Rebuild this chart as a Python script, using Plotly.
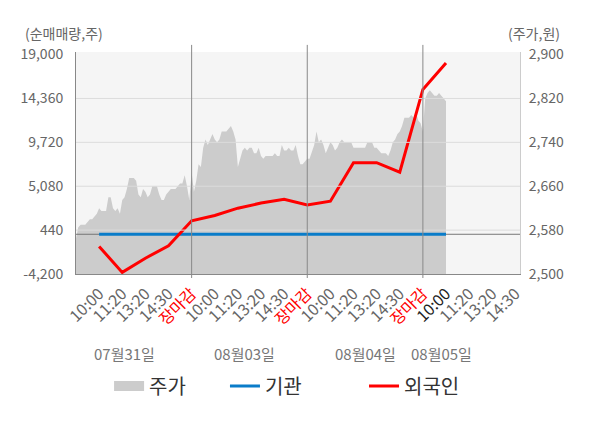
import numpy as np
import plotly.graph_objects as go

# 주가 (분봉, 시간 눈금 한 칸을 10등분한 간격으로 읽음)
price = [
    # 07월31일
    2565, 2585, 2590, 2590, 2590, 2595, 2600, 2600, 2605, 2610,
    2620, 2615, 2615, 2615, 2640, 2640, 2620, 2615, 2620, 2610,
    2635, 2640, 2655, 2675, 2675, 2675, 2670, 2645, 2640, 2655,
    2650, 2640, 2645, 2660, 2660, 2660, 2645, 2635, 2635, 2645,
    2650, 2655, 2655, 2655, 2660, 2665, 2665, 2680, 2660, 2635,
    # 08월03일
    2685, 2650, 2670, 2700, 2695, 2730, 2745, 2735, 2745, 2755,
    2745, 2740, 2745, 2760, 2760, 2760, 2765, 2770, 2760, 2745,
    2695, 2710, 2725, 2730, 2725, 2730, 2730, 2720, 2720, 2730,
    2715, 2710, 2715, 2715, 2715, 2715, 2720, 2715, 2715, 2735,
    2725, 2725, 2730, 2725, 2725, 2735, 2715, 2700, 2700, 2705,
    # 08월04일
    2710, 2710, 2725, 2735, 2760, 2740, 2745, 2735, 2720, 2730,
    2740, 2735, 2725, 2730, 2740, 2745, 2740, 2740, 2740, 2740,
    2730, 2730, 2730, 2730, 2730, 2730, 2740, 2740, 2740, 2730,
    2730, 2725, 2720, 2720, 2720, 2715, 2725, 2740, 2745, 2755,
    2760, 2770, 2785, 2785, 2785, 2790, 2785, 2795, 2780, 2775,
    # 08월05일
    2760, 2820, 2830, 2835, 2830, 2825, 2825, 2830, 2825, 2820, 2815,
]

# 외국인 / 기관 순매매량 (시간 눈금마다)
flow_slot = list(range(1, 17))
foreign = [-1290, -4030, -2530, -1220, 1420, 1990, 2760, 3300,
           3700, 3110, 3500, 7570, 7570, 6560, 15310, 18110]
institution = [0] * 16

# x축 눈금
tick_slot = list(range(1, 20))
tick_label = ['10:00', '11:20', '13:20', '14:30', '장마감'] * 3 + ['10:00', '11:20', '13:20', '14:30']
date_label = ['07월31일', '08월03일', '08월04일', '08월05일']

# 좌(순매매량) / 우(주가) 눈금
vol_ticks = [-4200, 440, 5080, 9720, 14360, 19000]
price_ticks = [2500, 2580, 2660, 2740, 2820, 2900]

price_x = np.arange(len(price)) / 10
x_range = [0, 19.2]
font = 'Noto Sans CJK KR'

# 장마감은 빨간색, 마지막 날 10:00은 진하게
tick_text = []
for i, t in enumerate(tick_label):
    if t == '장마감':
        tick_text.append('<span style="color:#ff0000">장마감</span>')
    elif i == 15:
        tick_text.append('<span style="color:#222222">' + t + '</span>')
    else:
        tick_text.append(t)

fig = go.Figure()

# 주가 영역
fig.add_trace(go.Scatter(
    x=price_x, y=price, name='주가', mode='lines',
    fill='tozeroy', fillcolor='#cccccc', line=dict(width=0, color='#cccccc'),
    hoverinfo='skip', showlegend=False
))
# 범례용 (회색 상자)
fig.add_trace(go.Scatter(
    x=[None], y=[None], name='주가', mode='lines',
    line=dict(color='#cccccc', width=14), legend='legend'
))

# 0 기준선
fig.add_trace(go.Scatter(
    x=x_range, y=[0, 0], yaxis='y2', mode='lines',
    line=dict(color='#777777', width=1), hoverinfo='skip', showlegend=False
))

fig.add_trace(go.Scatter(
    x=flow_slot, y=institution, name='기관', yaxis='y2', mode='lines',
    line=dict(color='#0a7cc9', width=3), legend='legend2'
))

fig.add_trace(go.Scatter(
    x=flow_slot, y=foreign, name='외국인', yaxis='y2', mode='lines',
    line=dict(color='#ff0000', width=3), legend='legend3'
))

# 가로 격자선 (영역 위에 그려짐)
for v in price_ticks[1:-1]:
    fig.add_shape(type='line', xref='paper', yref='y', x0=0, x1=1, y0=v, y1=v,
                  line=dict(color='#dcdcdc', width=1), layer='above')

# 날짜 구분선
for s, t in zip(tick_slot, tick_label):
    if t == '장마감':
        fig.add_shape(type='line', xref='x', yref='paper', x0=s, x1=s, y0=-0.018, y1=1.032,
                      line=dict(color='#888888', width=1), layer='above')

# 날짜 라벨
date_pos = [2.1, 7.3, 12.5, 15.8]
for d, p in zip(date_label, date_pos):
    fig.add_annotation(x=p, y=-0.36, xref='x', yref='paper', text=d, showarrow=False,
                       yanchor='middle', font=dict(size=15, color='#777777'))

fig.add_annotation(x=-0.12, y=1.086, xref='paper', yref='paper', text='(순매매량,주)',
                   showarrow=False, xanchor='left', yanchor='middle',
                   font=dict(size=14, color='#666666'))
fig.add_annotation(x=1.095, y=1.086, xref='paper', yref='paper', text='(주가,원)',
                   showarrow=False, xanchor='right', yanchor='middle',
                   font=dict(size=14, color='#666666'))

legend_style = dict(orientation='h', yanchor='middle', y=-0.505, xanchor='left',
                    font=dict(size=20, color='#333333'), bgcolor='rgba(0,0,0,0)')

# 페이지 기본 여백(8px)만큼 당겨서 배치
fig.update_layout(
    width=600, height=428,
    margin=dict(l=68, r=88, t=44, b=162, autoexpand=False),
    paper_bgcolor='white', plot_bgcolor='#f5f5f5',
    font=dict(family=font, color='#666666'),
    xaxis=dict(range=x_range, tickvals=tick_slot, ticktext=tick_text, tickangle=-45,
               showgrid=False, zeroline=False, showline=True, linecolor='#888888',
               ticks='outside', ticklen=3, tickcolor='rgba(0,0,0,0)',
               tickfont=dict(size=16, color='#666666')),
    yaxis=dict(side='right', range=[2500, 2904.7], tickvals=price_ticks,
               ticktext=[f'{v:,}' for v in price_ticks], showgrid=False, zeroline=False,
               showline=True, linecolor='#cccccc', ticks='outside', ticklen=5,
               tickcolor='rgba(0,0,0,0)', tickfont=dict(size=14, color='#666666')),
    yaxis2=dict(side='left', overlaying='y', range=[-4200, 19270], tickvals=vol_ticks,
                ticktext=[f'{v:,}' for v in vol_ticks], showgrid=False, zeroline=False,
                showline=True, linecolor='#888888', ticks='outside', ticklen=9,
                tickcolor='rgba(0,0,0,0)', tickfont=dict(size=14, color='#666666')),
    legend=dict(legend_style, x=0.0745),
    legend2=dict(legend_style, x=0.3355),
    legend3=dict(legend_style, x=0.6487),
)

fig.write_html("out.html")
